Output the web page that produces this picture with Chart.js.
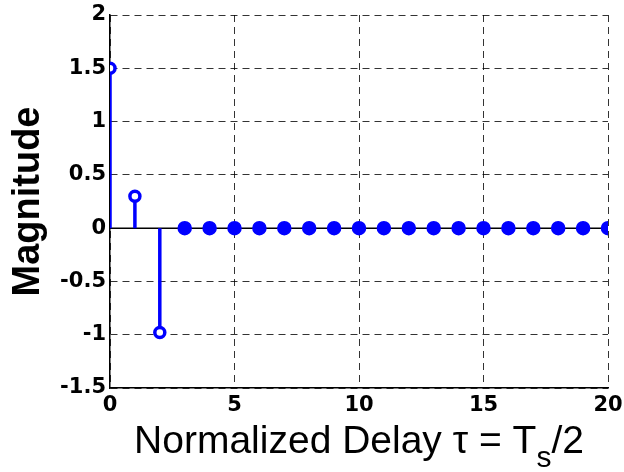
<!DOCTYPE html>
<html>
<head>
<meta charset="utf-8">
<script src="https://cdn.jsdelivr.net/npm/chart.js@4"></script>
<style>
  body { margin: 0; background: #fff; }
  #wrap { width: 624px; height: 472px; }
</style>
</head>
<body>
<div id="wrap"><canvas id="myChart" width="624" height="472"></canvas></div>
<script>
// data
var delays = [0, 1, 2, 3, 4, 5, 6, 7, 8, 9, 10, 11, 12, 13, 14, 15, 16, 17, 18, 19, 20];
var magnitude = [1.5, 0.3, -0.98, 0, 0, 0, 0, 0, 0, 0, 0, 0, 0, 0, 0, 0, 0, 0, 0, 0, 0];
var xTicks = [0, 5, 10, 15, 20];
var yTicks = [-1.5, -1, -0.5, 0, 0.5, 1, 1.5, 2];

var blue = 'rgb(0, 0, 255)';

// stems: one segment per point, broken with nulls
var stems = [];
delays.forEach(function(x, i) {
    stems.push({x: x, y: 0}, {x: x, y: magnitude[i]}, {x: x, y: null});
});
var markers = delays.map(function(x, i) { return {x: x, y: magnitude[i]}; });
var hollow = magnitude.map(function(v) { return v !== 0; });

// x label with subscript, drawn under the axis
var xTitle = {
    id: 'xTitle',
    afterDraw: function(chart) {
        var ctx = chart.ctx, area = chart.chartArea;
        var big = '39px "Liberation Sans", Arial, sans-serif';
        var small = '30px "Liberation Sans", Arial, sans-serif';
        var parts = [['Normalized Delay \u03c4 = T', big, 0], ['s', small, 14], ['/2', big, 0]];
        ctx.save();
        ctx.fillStyle = '#000';
        ctx.textBaseline = 'alphabetic';
        var total = 0;
        parts.forEach(function(p) { ctx.font = p[1]; total += ctx.measureText(p[0]).width; });
        var x = (area.left + area.right) / 2 - total / 2;
        var base = 453;
        parts.forEach(function(p) {
            ctx.font = p[1];
            ctx.fillText(p[0], x, base + p[2]);
            x += ctx.measureText(p[0]).width;
        });
        ctx.restore();
    }
};

var tickFont = {family: '"DejaVu Sans", sans-serif', size: 21, weight: 'bold'};
var gridStyle = {color: 'rgba(0,0,0,0.8)', lineWidth: 1, drawTicks: false};
var plainNumber = function(v) { return String(v); };

var ctx = document.getElementById('myChart').getContext('2d');
var chart = new Chart(ctx, {
    type: 'scatter',
    data: {
        datasets: [{
            // stem baseline
            type: 'line',
            data: [{x: delays[0], y: 0}, {x: delays[delays.length - 1], y: 0}],
            borderColor: '#000',
            borderWidth: 1.5,
            pointRadius: 0,
            order: 3
        }, {
            type: 'line',
            data: stems,
            borderColor: blue,
            borderWidth: 3.5,
            pointRadius: 0,
            spanGaps: false,
            order: 2
        }, {
            data: markers,
            pointRadius: function(c) { return hollow[c.dataIndex] ? 5 : 6.5; },
            pointBorderWidth: function(c) { return hollow[c.dataIndex] ? 3.5 : 1.5; },
            pointBackgroundColor: function(c) { return hollow[c.dataIndex] ? '#fff' : blue; },
            pointBorderColor: blue,
            order: 1
        }]
    },
    options: {
        animation: false,
        responsive: false,
        layout: {padding: {top: 15, right: 16, left: 0, bottom: 0}},
        plugins: {legend: {display: false}, tooltip: {enabled: false}},
        scales: {
            x: {
                type: 'linear',
                min: 0, max: 20,
                afterBuildTicks: function(s) { s.ticks = xTicks.map(function(v) { return {value: v}; }); },
                afterFit: function(s) { s.height = 84; s.paddingRight = 0; s.paddingLeft = 0; },
                grid: gridStyle,
                border: {display: true, color: '#000', width: 1.5, dash: [7, 5]},
                ticks: {font: tickFont, color: '#000', padding: 5, maxRotation: 0, callback: plainNumber}
            },
            y: {
                min: -1.5, max: 2,
                afterBuildTicks: function(s) { s.ticks = yTicks.map(function(v) { return {value: v}; }); },
                afterFit: function(s) { s.width = 110; s.paddingTop = 0; s.paddingBottom = 0; },
                grid: gridStyle,
                border: {display: true, color: '#000', width: 1.5, dash: [7, 5]},
                ticks: {font: tickFont, color: '#000', padding: 4, callback: plainNumber},
                title: {
                    display: true,
                    text: 'Magnitude',
                    color: '#000',
                    font: {family: '"Liberation Sans", Arial, sans-serif', size: 38, weight: 'bold'},
                    padding: {top: 6, bottom: 0}
                }
            }
        }
    },
    plugins: [xTitle]
});
</script>
</body>
</html>
